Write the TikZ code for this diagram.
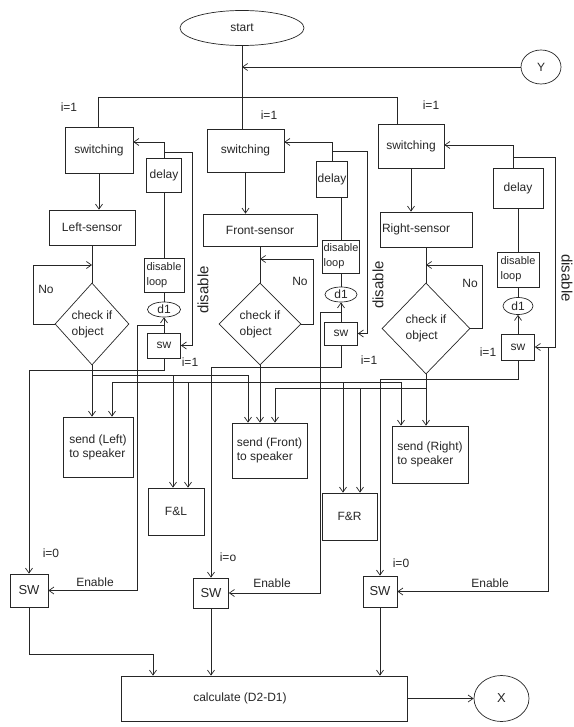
\documentclass[tikz,border=0pt]{standalone}
\usepackage{fontspec}
\setmainfont{Liberation Sans}
\usetikzlibrary{shapes.geometric,arrows.meta}
\begin{document}
\begin{tikzpicture}[x=1pt,y=-1pt,
  line width=0.7pt, color=black!85,
  >={Straight Barb[length=5pt,width=7pt]},
  every node/.style={font=\fontsize{12}{14}\selectfont},
  box/.style={draw, inner sep=0pt, align=center},
  lbox/.style={draw, inner sep=3pt, align=left},
  dlbox/.style={draw, inner sep=0pt, align=left, font=\fontsize{11}{15}\selectfont},
  dia/.style={draw, diamond, inner sep=0pt, align=left, font=\fontsize{12}{16}\selectfont},
  oval/.style={draw, ellipse, inner sep=0pt},
  lbl/.style={inner sep=0pt},
  vlbl/.style={inner sep=0pt, font=\fontsize{15}{15}\selectfont},
  swbig/.style={draw, inner sep=0pt, font=\fontsize{13}{15}\selectfont},
]
\useasboundingbox (0,0) rectangle (573,727);
% terminals
\node[oval, minimum width=124pt, minimum height=35pt] (start) at (242,28) {start};
\node[oval, minimum width=40pt, minimum height=34pt] (Y) at (541,67) {Y};
\coordinate (yj) at (242,67);
\coordinate (bar) at (242,97);
\coordinate (barL) at (98,97);
\coordinate (barR) at (397,97);
% switching
\node[box, minimum width=68pt, minimum height=46pt] (SL) at (99,150) {switching};
\node[box, minimum width=77pt, minimum height=43pt] (SM) at (245.5,150.5) {switching};
\node[box, minimum width=66pt, minimum height=44pt] (SR) at (411,146) {switching};
% sensors
\node[box, minimum width=86pt, minimum height=35pt] (LS) at (92,227.5) {Left-sensor};
\node[box, minimum width=114pt, minimum height=32pt] (FS) at (260,230) {Front-sensor};
\node[box, minimum width=92pt, minimum height=35pt, align=left, text width=88pt] (RS) at (426,229.5) {Right-sensor};
% diamonds
\node[dia, minimum width=74pt, minimum height=82pt] (DL) at (92,324) {check if\\object};
\node[dia, minimum width=82pt, minimum height=82pt] (DM) at (260,324) {check if\\object};
\node[dia, minimum width=88pt, minimum height=91pt] (DR) at (426,328.5) {check if\\object};
% delay columns
\node[box, minimum width=35pt, minimum height=34pt] (DelL) at (164,175) {delay};
\node[box, minimum width=31pt, minimum height=36pt] (DelM) at (332,179) {delay};
\node[box, minimum width=50pt, minimum height=40pt] (DelR) at (518,188) {delay};
\node[dlbox, minimum width=40pt, minimum height=34pt] (DLL) at (164,275) {disable\\loop};
\node[dlbox, minimum width=37pt, minimum height=33pt] (DLM) at (341,256.5) {disable\\loop};
\node[dlbox, minimum width=42pt, minimum height=35pt] (DLR) at (518,269.5) {disable\\loop};
\node[oval, minimum width=33pt, minimum height=15pt] (d1L) at (164,309.5) {d1};
\node[oval, minimum width=32pt, minimum height=15pt] (d1M) at (341,294.5) {d1};
\node[oval, minimum width=30pt, minimum height=17pt] (d1R) at (518,306) {d1};
\node[box, minimum width=33pt, minimum height=25pt] (swL) at (164,345.5) {sw};
\node[box, minimum width=33pt, minimum height=23pt] (swM) at (341,333.5) {sw};
\node[box, minimum width=33pt, minimum height=26pt] (swR) at (518,347) {sw};
% outputs
\node[lbox, minimum width=70pt, minimum height=60pt] (SendL) at (98,447) {send (Left)\\to speaker};
\node[lbox, minimum width=75pt, minimum height=55pt] (SendF) at (269.5,450.5) {send (Front)\\to speaker};
\node[lbox, minimum width=76pt, minimum height=57pt] (SendR) at (430,454.5) {send (Right)\\to speaker};
\node[box, minimum width=56pt, minimum height=47pt] (FL) at (176,511.5) {F\&L};
\node[box, minimum width=55pt, minimum height=47pt] (FR) at (349.5,516.5) {F\&R};
\node[swbig, minimum width=38pt, minimum height=33pt] (SWL) at (29,590.5) {SW};
\node[swbig, minimum width=35pt, minimum height=30pt] (SWM) at (211,593) {SW};
\node[swbig, minimum width=34pt, minimum height=31pt] (SWR) at (380,591.5) {SW};
\node[box, minimum width=286pt, minimum height=45pt] (Calc) at (264,698.5) {\hspace*{-48pt}calculate (D2-D1)};
\node[oval, minimum width=55pt, minimum height=46pt, font=\fontsize{13}{15}\selectfont] (X) at (501.5,698.5) {X};
% labels
\node[lbl] (l1) at (69,107) {i=1};
\node[lbl] (l2) at (269,115) {i=1};
\node[lbl] (l3) at (431,105) {i=1};
\node[lbl] (n1) at (46,289) {No};
\node[lbl] (n2) at (300,281) {No};
\node[lbl] (n3) at (470,283) {No};
\node[vlbl, rotate=90] (v1) at (203,290) {disable};
\node[vlbl, rotate=90] (v2) at (378,285) {disable};
\node[vlbl, rotate=-90] (v3) at (567,278) {disable};
\node[lbl] (s1) at (190,362) {i=1};
\node[lbl] (s2) at (369,360) {i=1};
\node[lbl] (s3) at (488,352) {i=1};
\node[lbl] (z1) at (51,553) {i=0};
\node[lbl] (z2) at (228,557) {i=o};
\node[lbl] (z3) at (401,563) {i=0};
\node[lbl] (e1) at (95,582) {Enable};
\node[lbl] (e2) at (272,583) {Enable};
\node[lbl] (e3) at (490,583) {Enable};
% coordinates
\coordinate (nL) at (92,265);
\coordinate (nM) at (260,259);
\coordinate (nR) at (426,265);
\coordinate (aL) at (164,142);
\coordinate (bL) at (164,152);
\coordinate (aM) at (332,142);
\coordinate (bM) at (332,151);
\coordinate (aR) at (513,145);
\coordinate (bR) at (513,157);
\coordinate (eL) at (164,325);
\coordinate (eM) at (341,312);
\coordinate (eR) at (548,347);
\coordinate (jL) at (92,375);
\coordinate (jF) at (260,382);
\coordinate (jR) at (426,388);
% top
\draw (start.south) -- (bar);
\draw[->] (Y.west) -- (yj);
\draw (barL) -- (barR);
\draw (barL) -- (barL |- SL.north);
\draw (bar) -- (bar |- SM.north);
\draw (barR) -- (barR |- SR.north);
% switching -> sensors -> diamonds
\draw[->] (SL.south) -- (SL.south |- LS.north);
\draw[->] (SM.south) -- (SM.south |- FS.north);
\draw[->] (SR.south) -- (SR.south |- RS.north);
\draw (LS.south) -- (DL.north);
\draw (FS.south) -- (DM.north);
\draw (RS.south) -- (DR.north);
% no loops
\draw[->] (DL.west) -- ++(-21,0) |- (nL);
\draw[->] (DM.east) -- ++(12,0) |- (nM);
\draw[->] (DR.east) -- ++(12,0) |- (nR);
% delay columns
\draw[->] (DelL.north) -- (aL) -- (aL -| SL.east);
\draw[->] (DelM.north) -- (aM) -- (aM -| SM.east);
\draw[->] (aR |- DelR.north) -- (aR) -- (aR -| SR.east);
\draw[->] (bL) -- ++(28,0) |- (swL.east);
\draw[->] (bM) -- ++(35,0) |- (swM.east);
\draw[->] (bR) -- ++(42,0) |- (swR.east);
\draw (DelL.south) -- (DLL.north);
\draw (DLM.north |- DelM.south) -- (DLM.north);
\draw (DelR.south) -- (DLR.north);
\draw (DLL.south) -- (d1L.north);
\draw (DLM.south) -- (d1M.north);
\draw (DLR.south) -- (d1R.north);
\draw[->] (swL.north) -- (d1L.south);
\draw[->] (swM.north) -- (d1M.south);
\draw[->] (swR.north) -- (d1R.south);
% enable lines
\draw[->] (eL) -- ++(-27,0) |- (SWL.east);
\draw[->] (eM) -- ++(-21,0) |- (SWM.east);
\draw[->] (eR) |- (SWR.east);
% sw outputs to SW
\draw[->] (swL.south) -- ++(0,12) -| (SWL.north);
\draw[->] (swM.south) -- ++(0,22) -| (SWM.north);
\draw[->] (swR.south) -- ++(0,19) -| (SWR.north);
% diamond outputs
\draw[->] (DL.south) -- (DL.south |- SendL.north);
\draw[->] (DM.south) -- (DM.south |- SendF.north);
\draw[->] (DR.south) -- (DR.south |- SendR.north);
% buses
\draw[->] (jL) -| ([xshift=-21.5pt]SendF.north);
\draw[->] ([xshift=-3pt]FL.north |- jL) -- ([xshift=-3pt]FL.north);
\draw[->] (jF) -| ([xshift=14pt]SendL.north);
\draw[->] (jF) -| ([xshift=-29pt]SendR.north);
\draw[->] ([xshift=12pt]FL.north |- jF) -- ([xshift=12pt]FL.north);
\draw[->] ([xshift=-6.5pt]FR.north |- jF) -- ([xshift=-6.5pt]FR.north);
\draw[->] (jR) -| ([xshift=5.5pt]SendF.north);
\draw[->] ([xshift=10.5pt]FR.north |- jR) -- ([xshift=10.5pt]FR.north);
% to calculate
\draw[->] (SWL.south) -- ++(0,47) -| ([xshift=-111pt]Calc.north);
\draw[->] (SWM.south) -- (SWM.south |- Calc.north);
\draw[->] (SWR.south) -- (SWR.south |- Calc.north);
\draw[->] (Calc.east) -- (X.west);
\end{tikzpicture}
\end{document}
